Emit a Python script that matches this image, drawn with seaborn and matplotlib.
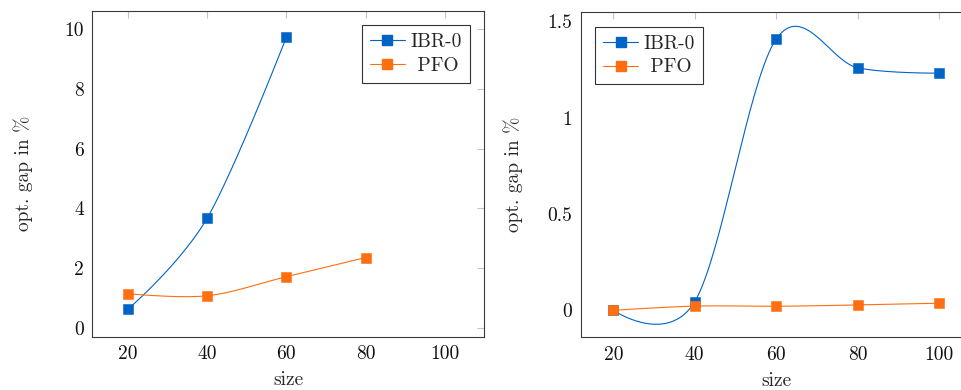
import numpy as np
import pandas as pd
import seaborn as sns
import matplotlib.pyplot as plt
from matplotlib.lines import Line2D

# data
size_left = [20, 40, 60, 80]
ibr_left = [0.62, 3.67, 9.73]
pfo_left = [1.14, 1.07, 1.71, 2.35]

size_right = [20, 40, 60, 80, 100]
ibr_right = [0.0, 0.045, 1.408, 1.259, 1.231]
pfo_right = [0.0, 0.022, 0.021, 0.028, 0.037]

x_ticks = [20, 40, 60, 80, 100]
y_ticks_left = [0, 2, 4, 6, 8, 10]
y_ticks_right = [0, 0.5, 1, 1.5]
y_labels_right = ["0", "0.5", "1", "1.5"]

BLUE = "#0063c6"
ORANGE = "#ff6f12"
FS = 14

sns.set_style("white")
plt.rcParams["font.family"] = ["cmr10", "DejaVu Serif"]
plt.rcParams["mathtext.fontset"] = "cm"
plt.rcParams["axes.formatter.use_mathtext"] = True
plt.rcParams["axes.unicode_minus"] = False


def smooth(xs, ys, k=1 / 6, n=60):
    # bezier curve through the points, like pgfplots "smooth"
    p = np.column_stack([xs, ys]).astype(float)
    out = []
    t = np.linspace(0, 1, n)[:, None]
    for i in range(len(p) - 1):
        a, d = p[i], p[i + 1]
        b = a if i == 0 else a + k * (p[i + 1] - p[i - 1])
        c = d if i + 1 == len(p) - 1 else d - k * (p[i + 2] - p[i])
        seg = (1 - t) ** 3 * a + 3 * (1 - t) ** 2 * t * b + 3 * (1 - t) * t ** 2 * c + t ** 3 * d
        out.append(seg)
    out = np.vstack(out)
    return out[:, 0], out[:, 1]


def draw(ax, xs_ibr, ibr, xs_pfo, pfo):
    for xs, ys, col in [(xs_ibr, ibr, BLUE), (xs_pfo, pfo, ORANGE)]:
        cx, cy = smooth(xs, ys)
        ax.plot(cx, cy, color=col, lw=0.8, zorder=2)
        df = pd.DataFrame({"size": xs, "gap": ys})
        sns.scatterplot(data=df, x="size", y="gap", ax=ax, marker="s", s=52,
                        color=col, edgecolor=col, linewidth=0.4, zorder=3)


def style(ax, ylab_x):
    for sp in ax.spines.values():
        sp.set_color("#3a3a3a")
        sp.set_linewidth(0.8)
    ax.tick_params(direction="in", length=5, width=0.8, color="#c4c4c4",
                   top=True, right=True, labelsize=FS, pad=6, labelcolor="#111111")
    ax.set_xlabel("size", fontsize=FS, labelpad=6)
    ax.set_ylabel("opt. gap in %", fontsize=FS)
    ax.yaxis.set_label_coords(ylab_x, 0.5)
    ax.set_xticks(x_ticks)
    ax.set_xticklabels([str(v) for v in x_ticks])


fig = plt.figure(figsize=(9.62, 3.9), dpi=100)
ax1 = fig.add_axes([92.3 / 962, 1 - 336.7 / 390, 392 / 962, 326 / 390])
ax2 = fig.add_axes([580.7 / 962, 1 - 337.3 / 390, 391 / 962, 325 / 390])

draw(ax1, size_left[:3], ibr_left, size_left, pfo_left)
draw(ax2, size_right, ibr_right, size_right, pfo_right)

ax1.set_xlim(11, 110)
ax1.set_ylim(-0.3, 10.62)
ax1.set_yticks(y_ticks_left)
ax1.set_yticklabels([str(v) for v in y_ticks_left])

ax2.set_xlim(12, 108)
ax2.set_ylim(-0.14, 1.547)
ax2.set_yticks(y_ticks_right)
ax2.set_yticklabels(y_labels_right)

style(ax1, -0.151)
style(ax2, -0.148)

handles = [
    Line2D([], [], color=BLUE, lw=0.8, marker="s", markersize=7, markerfacecolor=BLUE, markeredgecolor=BLUE),
    Line2D([], [], color=ORANGE, lw=0.8, marker="s", markersize=7, markerfacecolor=ORANGE, markeredgecolor=ORANGE),
]
for ax, loc in [(ax1, "upper right"), (ax2, "upper left")]:
    leg = ax.legend(handles, ["IBR-0", " PFO"], loc=loc, fontsize=FS, frameon=True,
                    fancybox=False, edgecolor="#333333", framealpha=1, handlelength=1.8,
                    handletextpad=0.3, borderpad=0.4, labelspacing=0.3, borderaxespad=0.75)
    leg.get_frame().set_linewidth(0.8)

fig.savefig("out.png", dpi=100)
